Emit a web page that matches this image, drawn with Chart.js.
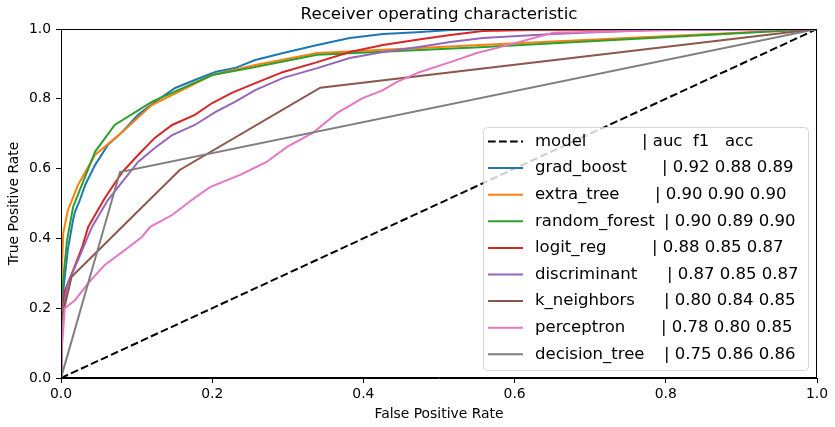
<!DOCTYPE html>
<html>
<head>
<meta charset="utf-8">
<script src="https://cdn.jsdelivr.net/npm/chart.js@4.4.1/dist/chart.umd.min.js"></script>
<style>
  html, body { margin: 0; padding: 0; background: #fff; }
  #roc { display: block; }
</style>
</head>
<body>
<canvas id="roc" width="835" height="427"></canvas>
<script>
// ROC curves (false positive rate / true positive rate)
const modelFpr = [0, 1];
const modelTpr = [0, 1];

const gradBoostFpr = [0, 0, 0.004, 0.009, 0.016, 0.0185, 0.025, 0.032, 0.045, 0.062, 0.081, 0.102, 0.124, 0.151, 0.177, 0.204, 0.230, 0.257, 0.294, 0.339, 0.382, 0.426, 0.471, 0.515, 0.58, 1];
const gradBoostTpr = [0, 0.20, 0.27, 0.367, 0.453, 0.476, 0.51, 0.553, 0.610, 0.668, 0.705, 0.754, 0.791, 0.831, 0.854, 0.877, 0.888, 0.911, 0.931, 0.954, 0.974, 0.986, 0.991, 0.997, 1, 1];

const extraTreeFpr = [0, 0, 0.003, 0.009, 0.0145, 0.0225, 0.045, 0.081, 0.120, 0.200, 0.257, 0.339, 0.554, 1];
const extraTreeTpr = [0, 0.25, 0.415, 0.48, 0.51, 0.553, 0.639, 0.705, 0.782, 0.868, 0.897, 0.931, 0.954, 1];

const randomForestFpr = [0, 0, 0.008, 0.016, 0.045, 0.071, 0.120, 0.200, 0.250, 0.339, 0.554, 1];
const randomForestTpr = [0, 0.22, 0.395, 0.49, 0.648, 0.725, 0.791, 0.868, 0.888, 0.926, 0.948, 1];

const logitRegFpr = [0, 0, 0.005, 0.0145, 0.028, 0.036, 0.045, 0.058, 0.081, 0.102, 0.124, 0.147, 0.177, 0.200, 0.226, 0.257, 0.294, 0.339, 0.382, 0.426, 0.471, 0.515, 0.558, 0.62, 1];
const logitRegTpr = [0, 0.16, 0.25, 0.30, 0.375, 0.433, 0.467, 0.516, 0.590, 0.639, 0.688, 0.725, 0.754, 0.788, 0.817, 0.845, 0.877, 0.905, 0.934, 0.954, 0.969, 0.983, 0.994, 0.997, 1];

const discriminantFpr = [0, 0, 0.009, 0.0225, 0.041, 0.062, 0.081, 0.102, 0.124, 0.147, 0.177, 0.204, 0.230, 0.257, 0.294, 0.339, 0.382, 0.426, 0.471, 0.515, 0.558, 0.651, 0.78, 1];
const discriminantTpr = [0, 0.16, 0.272, 0.338, 0.433, 0.51, 0.562, 0.619, 0.659, 0.696, 0.725, 0.762, 0.791, 0.825, 0.860, 0.888, 0.917, 0.934, 0.948, 0.963, 0.974, 0.986, 0.997, 1];

const kNeighborsFpr = [0, 0.001, 0.014, 0.157, 0.343, 1];
const kNeighborsTpr = [0, 0.17, 0.29, 0.596, 0.832, 1];

const perceptronFpr = [0, 0.001, 0.005, 0.0185, 0.036, 0.058, 0.081, 0.107, 0.118, 0.147, 0.173, 0.197, 0.237, 0.272, 0.299, 0.333, 0.365, 0.399, 0.426, 0.444, 0.475, 0.515, 0.550, 0.581, 0.651, 0.819, 1];
const perceptronTpr = [0, 0.08, 0.20, 0.223, 0.272, 0.324, 0.361, 0.404, 0.433, 0.467, 0.51, 0.547, 0.582, 0.619, 0.662, 0.702, 0.759, 0.802, 0.825, 0.848, 0.877, 0.905, 0.931, 0.948, 0.989, 0.997, 1];

const decisionTreeFpr = [0, 0.078, 1];
const decisionTreeTpr = [0, 0.59, 1];

const modelNames = ["grad_boost", "extra_tree", "random_forest", "logit_reg", "discriminant", "k_neighbors", "perceptron", "decision_tree"];
const aucScores = ["0.92", "0.90", "0.90", "0.88", "0.87", "0.80", "0.78", "0.75"];
const f1Scores = ["0.88", "0.90", "0.89", "0.85", "0.85", "0.84", "0.80", "0.86"];
const accScores = ["0.89", "0.90", "0.90", "0.87", "0.87", "0.85", "0.85", "0.86"];

const colors = ["#1f77b4", "#ff7f0e", "#2ca02c", "#d62728", "#9467bd", "#8c564b", "#e377c2", "#7f7f7f"];
const curves = [
    [gradBoostFpr, gradBoostTpr],
    [extraTreeFpr, extraTreeTpr],
    [randomForestFpr, randomForestTpr],
    [logitRegFpr, logitRegTpr],
    [discriminantFpr, discriminantTpr],
    [kNeighborsFpr, kNeighborsTpr],
    [perceptronFpr, perceptronTpr],
    [decisionTreeFpr, decisionTreeTpr],
];

const toPoints = (xs, ys) => xs.map((x, i) => ({ x: x, y: ys[i] }));

const FONT = "'DejaVu Sans', sans-serif";

const datasets = [
    {
        label: "model",
        data: toPoints(modelFpr, modelTpr),
        borderColor: "#000",
        borderDash: [7.7, 3.3],
        order: 9,
    },
];
modelNames.forEach((name, i) => {
    datasets.push({
        label: name,
        data: toPoints(curves[i][0], curves[i][1]),
        borderColor: colors[i],
        order: 8 - i, // matplotlib draws later curves on top
    });
});

// pipe column x for each legend row (the original pads names with spaces)
const pipeX = [642, 662, 655, 664, 652, 667, 664, 661, 664];

const extras = {
    id: "extras",
    afterDraw(chart) {
        const ctx = chart.ctx;
        const a = chart.chartArea;
        ctx.save();

        // frame
        ctx.strokeStyle = "#000";
        ctx.lineWidth = 1;
        ctx.strokeRect(a.left + 0.5, a.top + 0.5, a.right - a.left - 1, a.bottom - a.top - 1);

        // title
        ctx.fillStyle = "#000";
        ctx.font = "16.7px " + FONT;
        ctx.textAlign = "center";
        ctx.textBaseline = "middle";
        ctx.fillText("Receiver operating characteristic", (a.left + a.right) / 2, 14.5);

        // legend box
        const bx = 483, by = 127, bw = 325, bh = 243, r = 4;
        ctx.beginPath();
        ctx.roundRect(bx + 0.5, by + 0.5, bw, bh, r);
        ctx.fillStyle = "rgba(255,255,255,0.8)";
        ctx.fill();
        ctx.strokeStyle = "rgba(204,204,204,0.8)";
        ctx.lineWidth = 1;
        ctx.stroke();

        ctx.font = "16.5px " + FONT;
        ctx.textAlign = "left";
        ctx.textBaseline = "middle";
        const rowY = (k) => 141.5 + k * 26.6;

        // header row
        ctx.strokeStyle = "#000";
        ctx.lineWidth = 2;
        ctx.setLineDash([7.7, 3.3]);
        ctx.beginPath();
        ctx.moveTo(488, rowY(0));
        ctx.lineTo(523, rowY(0));
        ctx.stroke();
        ctx.setLineDash([]);
        ctx.fillStyle = "#000";
        ctx.fillText("model", 535, rowY(0));
        ctx.fillText("| auc  f1   acc", pipeX[0], rowY(0));

        modelNames.forEach((name, i) => {
            const y = rowY(i + 1);
            ctx.strokeStyle = colors[i];
            ctx.beginPath();
            ctx.moveTo(488, y);
            ctx.lineTo(523, y);
            ctx.stroke();
            ctx.fillStyle = "#000";
            ctx.fillText(name, 535, y);
            ctx.fillText("| " + aucScores[i] + " " + f1Scores[i] + " " + accScores[i], pipeX[i + 1], y);
        });
        ctx.restore();
    },
};

const tickFont = { family: FONT, size: 13.9 };

new Chart(document.getElementById("roc"), {
    type: "line",
    data: { datasets: datasets },
    options: {
        responsive: false,
        animation: false,
        devicePixelRatio: 1,
        layout: { padding: { top: 29, right: 18, left: 0, bottom: 0 } },
        elements: {
            point: { radius: 0 },
            line: { borderWidth: 2, tension: 0 },
        },
        plugins: {
            legend: { display: false },
            title: { display: false },
            tooltip: { enabled: false },
        },
        scales: {
            x: {
                type: "linear",
                min: 0,
                max: 1,
                afterFit: (s) => { s.height = 49; },
                ticks: {
                    stepSize: 0.2,
                    color: "#000",
                    font: tickFont,
                    padding: 3,
                    maxRotation: 0,
                    callback: (v) => v.toFixed(1),
                },
                grid: { drawOnChartArea: false, tickLength: 5, color: "#000" },
                border: { color: "#000" },
                title: {
                    display: true,
                    text: "False Positive Rate",
                    color: "#000",
                    font: { family: FONT, size: 13.9 },
                    padding: { top: 2, bottom: 4 },
                },
            },
            y: {
                type: "linear",
                min: 0,
                max: 1,
                afterFit: (s) => { s.width = 61; },
                ticks: {
                    stepSize: 0.2,
                    color: "#000",
                    font: tickFont,
                    padding: 5,
                    callback: (v) => v.toFixed(1),
                },
                grid: { drawOnChartArea: false, tickLength: 5, color: "#000" },
                border: { color: "#000" },
                title: {
                    display: true,
                    text: "True Positive Rate",
                    color: "#000",
                    font: { family: FONT, size: 13.9 },
                    padding: { top: 6, bottom: 0 },
                },
            },
        },
    },
    plugins: [extras],
});
</script>
</body>
</html>
